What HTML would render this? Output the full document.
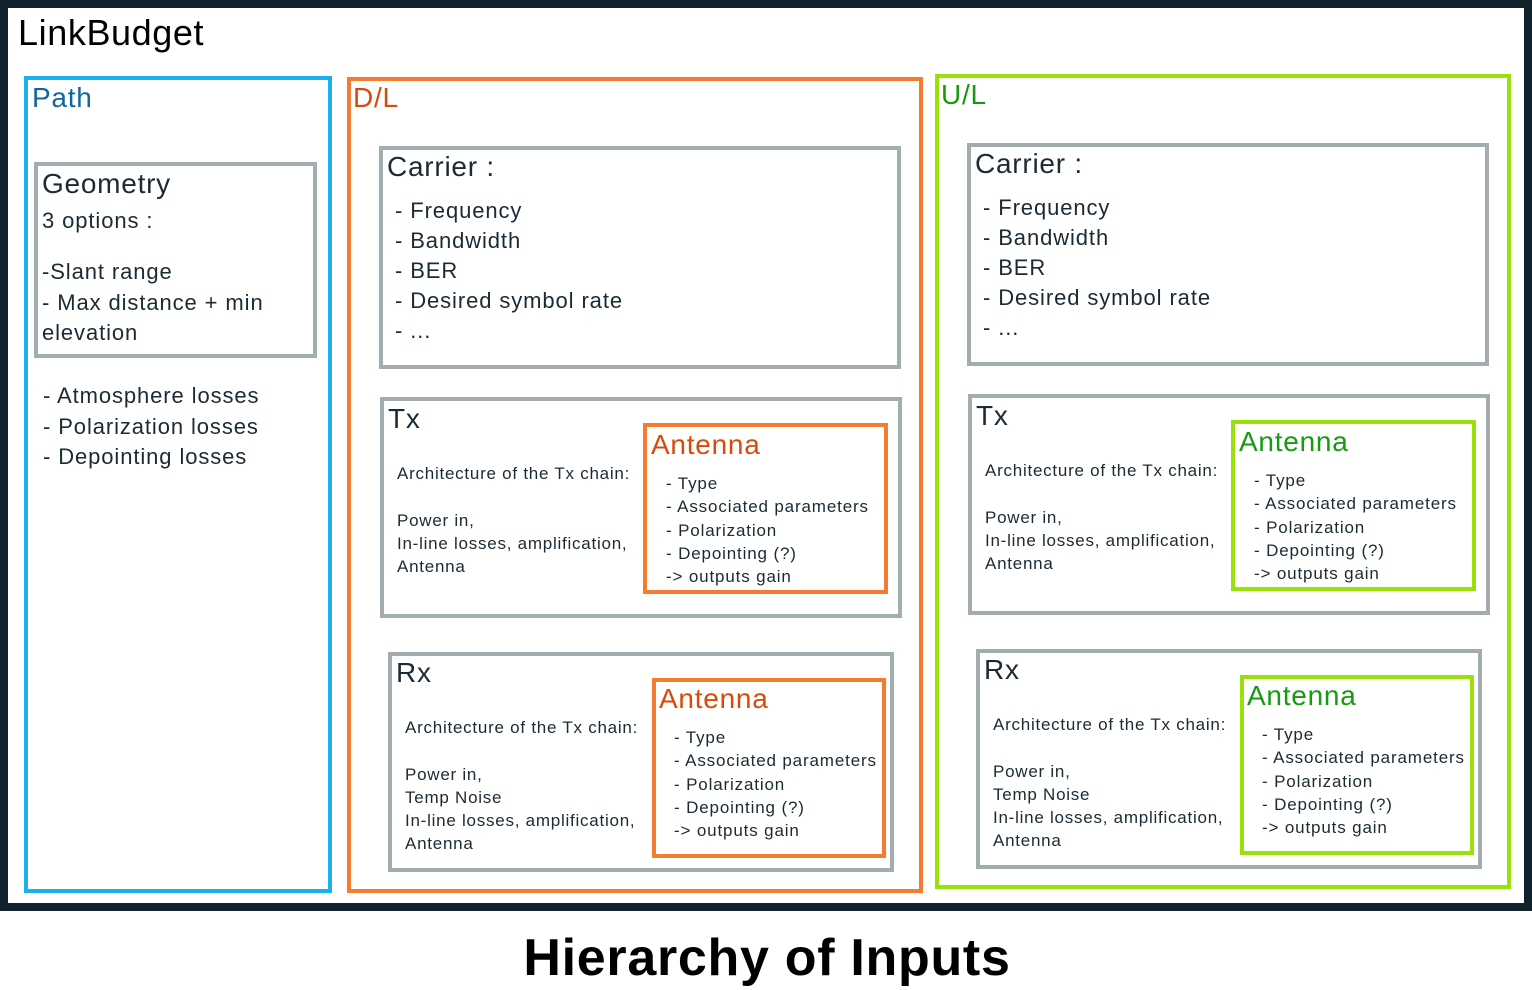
<!DOCTYPE html>
<html><head><meta charset="utf-8"><style>
*{margin:0;padding:0;box-sizing:border-box}
body{width:1532px;height:987px;background:#fff;position:relative;overflow:hidden;font-family:"Liberation Sans",sans-serif;color:#1b2a33}
.frame{position:absolute;left:0;top:0;width:1532px;height:911px;border:8px solid #12232e;background:#fff}
.b{position:absolute;border:4px solid}
.t{position:absolute;white-space:nowrap}
.g{border-color:#a2acb1}
.bl{border-color:#1ab0f0}
.o{border-color:#f57b31}
.gr{border-color:#9be00a}
.h28{font-size:28px;line-height:32px;letter-spacing:0.75px}
.l22{font-size:22px;line-height:30.5px;letter-spacing:0.9px}
.l17{font-size:17px;line-height:23.3px;letter-spacing:0.75px}
.a17{font-size:17px;line-height:23.3px;letter-spacing:0.85px}
</style></head><body>
<div class="frame"></div>
<div class="t" style="left:18px;top:12px;font-size:36px;line-height:42px;color:#000;letter-spacing:0.6px">LinkBudget</div>

<!-- Path -->
<div class="b bl" style="left:24px;top:76px;width:308px;height:817px"></div>
<div class="t h28" style="left:32px;top:82px;color:#0f66a0">Path</div>
<div class="b g" style="left:34px;top:162px;width:283px;height:196px"></div>
<div class="t h28" style="left:42px;top:168px">Geometry</div>
<div class="t l22" style="left:42px;top:206px">3 options :</div>
<div class="t l22" style="left:42px;top:257px">-Slant range<br>- Max distance + min<br>elevation</div>
<div class="t l22" style="left:43px;top:381px">- Atmosphere losses<br>- Polarization losses<br>- Depointing losses</div>

<!-- D/L -->
<div class="b o" style="left:347px;top:77px;width:576px;height:816px"></div>
<div class="t h28" style="left:353px;top:82px;color:#d94a0a">D/L</div>
<div class="b g" style="left:379px;top:146px;width:522px;height:223px"></div>
<div class="t h28" style="left:387px;top:151px">Carrier :</div>
<div class="t l22" style="left:395px;top:196px;line-height:30px">- Frequency<br>- Bandwidth<br>- BER<br>- Desired symbol rate<br>- ...</div>
<div class="b g" style="left:380px;top:397px;width:522px;height:221px"></div>
<div class="t h28" style="left:388px;top:403px">Tx</div>
<div class="t l17" style="left:397px;top:462px">Architecture of the Tx chain:<br><br>Power in,<br>In-line losses, amplification,<br>Antenna</div>
<div class="b o" style="left:643px;top:423px;width:245px;height:171px"></div>
<div class="t h28" style="left:651px;top:429px;color:#d94a0a">Antenna</div>
<div class="t a17" style="left:666px;top:472px">- Type<br>- Associated parameters<br>- Polarization<br>- Depointing (?)<br>-&gt; outputs gain</div>
<div class="b g" style="left:388px;top:652px;width:506px;height:220px"></div>
<div class="t h28" style="left:396px;top:657px">Rx</div>
<div class="t l17" style="left:405px;top:716px">Architecture of the Tx chain:<br><br>Power in,<br>Temp Noise<br>In-line losses, amplification,<br>Antenna</div>
<div class="b o" style="left:652px;top:678px;width:234px;height:180px"></div>
<div class="t h28" style="left:659px;top:683px;color:#d94a0a">Antenna</div>
<div class="t a17" style="left:674px;top:726px">- Type<br>- Associated parameters<br>- Polarization<br>- Depointing (?)<br>-&gt; outputs gain</div>

<!-- U/L -->
<div class="b gr" style="left:935px;top:74px;width:576px;height:815px"></div>
<div class="t h28" style="left:941px;top:79px;color:#169a10">U/L</div>
<div class="b g" style="left:967px;top:143px;width:522px;height:223px"></div>
<div class="t h28" style="left:975px;top:148px">Carrier :</div>
<div class="t l22" style="left:983px;top:193px;line-height:30px">- Frequency<br>- Bandwidth<br>- BER<br>- Desired symbol rate<br>- ...</div>
<div class="b g" style="left:968px;top:394px;width:522px;height:221px"></div>
<div class="t h28" style="left:976px;top:400px">Tx</div>
<div class="t l17" style="left:985px;top:459px">Architecture of the Tx chain:<br><br>Power in,<br>In-line losses, amplification,<br>Antenna</div>
<div class="b gr" style="left:1231px;top:420px;width:245px;height:171px"></div>
<div class="t h28" style="left:1239px;top:426px;color:#169a10">Antenna</div>
<div class="t a17" style="left:1254px;top:469px">- Type<br>- Associated parameters<br>- Polarization<br>- Depointing (?)<br>-&gt; outputs gain</div>
<div class="b g" style="left:976px;top:649px;width:506px;height:220px"></div>
<div class="t h28" style="left:984px;top:654px">Rx</div>
<div class="t l17" style="left:993px;top:713px">Architecture of the Tx chain:<br><br>Power in,<br>Temp Noise<br>In-line losses, amplification,<br>Antenna</div>
<div class="b gr" style="left:1240px;top:675px;width:234px;height:180px"></div>
<div class="t h28" style="left:1247px;top:680px;color:#169a10">Antenna</div>
<div class="t a17" style="left:1262px;top:723px">- Type<br>- Associated parameters<br>- Polarization<br>- Depointing (?)<br>-&gt; outputs gain</div>

<div class="t" style="left:0;width:1534px;text-align:center;top:926px;font-size:52px;line-height:64px;font-weight:bold;color:#000;letter-spacing:0.7px">Hierarchy of Inputs</div>
</body></html>
